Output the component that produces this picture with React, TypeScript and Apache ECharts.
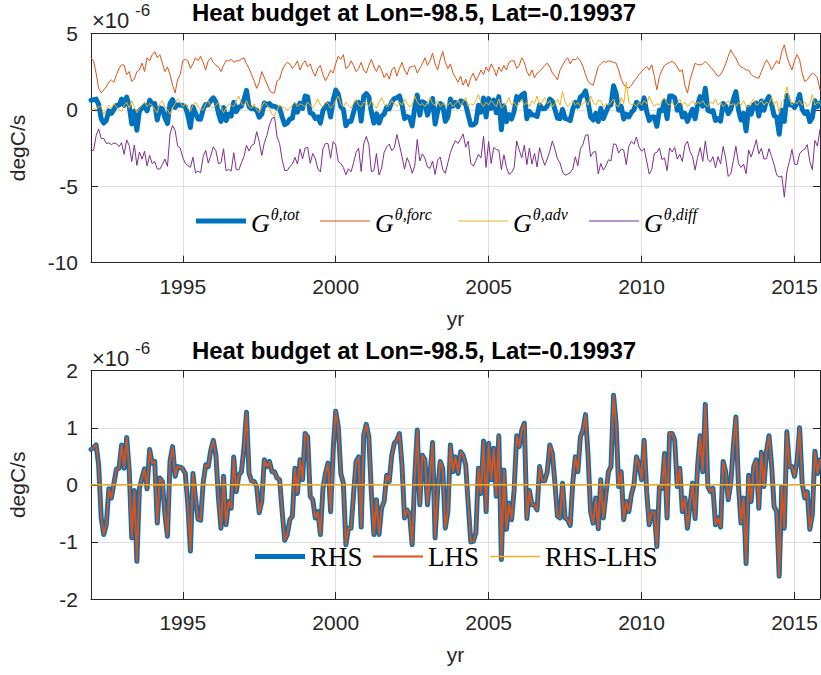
import { useEffect, useRef } from "react";
import * as echarts from "echarts";

const X_MIN = 1992;
const X_MAX = 2015.8333;
const YEAR_TICKS = [1995, 2000, 2005, 2010, 2015];
const TITLE = "Heat budget at Lon=-98.5, Lat=-0.19937";

// monthly values (x1e-6 degC/s), Jan 1992 onward
const gTot = [
  0.62, 0.65, 0.70, 0.35, -0.58, -0.87, -0.70, -0.07, -0.23, 0.03, 0.28, 0.29,
  0.70, 0.29, 0.83, 0.25, -0.93, -0.10, -1.34, -0.06, 0.12, 0.28, -0.07, 0.62,
  0.38, 0.41, -0.67, 0.12, 0.06, -0.52, -0.90, 0.41, 0.67, 0.15, 0.32, 0.31,
  0.28, 0.20, -0.35, -1.16, 0.20, -0.23, -0.60, -0.62, 0.03, 0.35, 0.32, 0.61,
  0.78, 0.52, -0.23, -0.76, 0.15, -0.70, -0.29, -0.41, 0.49, -0.12, 0.17, 0.23,
  0.64, 1.27, 0.20, 0.07, 0.06, -0.03, -0.49, -0.29, 0.44, 0.32, 0.41, 0.23,
  0.23, 0.12, 0.09, -0.47, -0.97, -0.87, -0.61, -0.55, 0.29, -0.15, 0.44, 0.09,
  0.90, 0.84, -0.20, -0.26, -0.58, -0.47, -0.87, -0.06, 0.20, 0.38, -0.47, 0.61,
  1.29, 1.02, 0.20, 0.03, -1.05, -0.76, -0.76, -0.17, 0.41, 0.49, -0.74, 0.87,
  1.06, 0.84, -0.15, -0.87, -0.26, -0.87, -0.41, -0.29, 0.17, 0.06, 0.52, 0.73,
  0.78, 0.90, 0.35, -0.58, -0.44, -0.52, -1.05, 0.12, 0.96, -0.35, 0.52, 0.44,
  -0.35, 0.17, 0.74, -0.93, -0.09, 0.41, 0.29, -0.76, -0.47, 0.70, 0.23, 0.49,
  0.20, 0.58, 0.52, 0.35, -0.35, -1.00, -0.99, -0.84, 0.29, -0.15, 0.77, -0.47,
  0.73, 0.09, 0.64, -0.20, 0.86, -1.31, 0.26, -0.78, -0.32, -0.61, -0.09, 0.86,
  0.67, 0.96, 1.08, -0.59, -0.10, -0.35, -0.35, -0.44, 0.32, 0.07, 0.07, 0.23,
  0.70, 0.55, 0.03, -0.55, -0.58, 0.03, -0.58, -0.61, -0.71, 0.03, 0.49, 0.23,
  0.84, 0.96, 1.23, 0.52, -0.47, -0.67, -0.23, -0.77, 0.09, -0.58, -0.17, 0.23,
  0.32, 1.57, 1.08, -0.03, 0.23, -0.61, -0.29, -0.47, -0.17, 0.00, 0.49, 0.35,
  0.09, 0.78, -0.12, -0.70, -0.47, -0.47, -1.08, -0.03, -0.06, 0.55, -0.58, 0.90,
  0.90, 0.78, -0.03, 0.29, -0.47, -0.23, -0.76, -0.35, 0.03, -0.59, 0.35, 0.86,
  0.23, 1.41, -0.03, -0.12, -0.06, -0.70, -0.58, -0.74, 0.41, 0.23, -0.26, 0.03,
  0.67, 1.19, 0.00, -0.67, -0.23, -1.38, 0.17, -0.29, 0.32, 0.44, -0.41, 0.57,
  -0.03, 0.58, 0.86, 0.35, -0.38, -0.47, -1.60, -0.03, -0.76, 0.93, 0.32, 0.32,
  0.15, 0.41, 1.00, 0.03, -0.23, -0.12, -0.78, -0.52, 0.59, 0.20, 0.44,
];

const gForc = [
  3.4, 3.2, 2.4, 1.4, 1.1, 1.3, 1.5, 1.8, 1.95, 1.8, 2.3, 2.7,
  2.95, 2.9, 2.3, 2.5, 1.85, 2.0, 2.5, 2.6, 3.05, 2.5, 3.4, 3.2,
  3.6, 3.8, 3.4, 3.6, 3.05, 2.5, 2.8, 2.3, 1.6, 1.1, 2.0, 2.3,
  3.2, 3.3, 3.2, 2.7, 3.0, 3.4, 3.2, 3.5, 3.1, 2.6, 3.2, 3.4,
  3.1, 2.9, 2.8, 2.5, 2.9, 3.2, 3.2, 3.3, 3.1, 3.2, 3.2, 3.3,
  3.4, 3.0, 2.7, 2.3, 1.9, 1.4, 1.8, 2.5, 2.1, 1.7, 1.3, 1.1,
  1.1, 1.9, 2.0, 2.6, 2.9, 3.1, 3.0, 2.7, 2.9, 3.2, 2.6, 3.0,
  3.2, 2.8, 3.0, 2.5, 2.2, 2.7, 2.9, 2.3, 1.9, 2.2, 2.6, 2.4,
  3.0, 3.5, 3.3, 3.6, 2.7, 2.8, 3.2, 2.9, 2.5, 2.7, 3.1, 2.6,
  2.4, 2.9, 3.3, 2.8, 2.5, 2.9, 2.6, 2.1, 2.4, 2.0, 2.6, 2.8,
  2.2, 2.7, 3.1, 2.6, 2.3, 2.8, 2.8, 2.9, 2.4, 2.7, 3.0, 3.4,
  2.9, 3.2, 3.7, 3.0, 2.6, 3.3, 3.8, 3.1, 2.7, 3.0, 2.4, 2.1,
  1.8, 2.2, 1.6, 2.0, 1.5, 2.1, 2.4, 1.9, 2.2, 2.6, 2.3, 2.8,
  2.5, 3.0, 2.7, 2.2, 2.8, 2.5, 2.9, 2.6, 3.1, 3.2, 3.2, 2.7,
  2.9, 3.4, 3.1, 2.5, 2.2, 2.6, 2.1, 2.4, 2.5, 2.7, 2.9, 3.05,
  2.8, 2.4, 2.2, 1.96, 2.6, 2.9, 3.2, 3.4, 3.0, 3.3, 3.27, 3.4,
  3.2, 2.83, 2.3, 1.85, 1.7, 1.6, 2.2, 2.83, 3.0, 3.16, 3.1, 3.2,
  3.16, 3.1, 3.05, 2.6, 2.0, 1.63, 1.5, 1.42, 1.6, 1.85, 2.07, 2.3,
  2.5, 2.7, 2.83, 2.61, 2.94, 2.18, 1.31, 2.18, 2.6, 2.9, 3.0, 3.1,
  3.16, 3.05, 2.8, 2.5, 2.61, 1.6, 1.09, 1.96, 2.5, 3.05, 2.95, 2.94,
  3.0, 3.16, 3.0, 2.8, 2.61, 2.4, 2.18, 2.3, 2.61, 3.0, 3.5, 3.92,
  3.6, 3.38, 3.0, 2.8, 2.72, 2.6, 2.6, 2.3, 2.18, 2.1, 2.07, 2.5,
  2.9, 3.27, 3.0, 2.61, 2.9, 3.2, 3.0, 3.8, 4.25, 3.49, 3.0, 2.61,
  3.2, 3.6, 3.27, 2.4, 1.85, 1.96, 2.2, 2.4, 2.3, 2.07, 1.31,
];

const gAdv = [
  -0.1, 0.1, 0.0, 0.2, 0.2, -0.3, 0.0, 0.3, 0.1, 0.4, 0.2, 0.0,
  -0.1, 0.3, 0.5, 0.1, 0.6, 0.2, -0.2, 0.1, 0.3, 0.5, 0.2, 0.4,
  0.3, 0.0, -0.2, 0.4, 0.6, 0.2, 0.0, -0.3, 0.1, 0.4, 0.7, 0.5,
  0.2, 0.4, 0.1, -0.1, 0.3, 0.5, 0.2, 0.0, 0.0, 0.4, 0.6, 0.2,
  0.1, 0.3, 0.5, 0.2, -0.2, 0.1, 0.4, 0.3, 0.2, 0.6, 0.9, 0.4,
  0.3, 0.6, 0.2, 0.1, 0.4, 0.0, -0.2, 0.2, 0.5, 0.3, 0.1, -0.3,
  -0.4, 0.0, 0.3, 0.2, 0.1, 0.0, 0.1, 0.3, 0.5, 0.2, 0.4, 0.3,
  0.2, 0.5, 0.3, 0.1, 0.4, 0.7, 0.3, 0.2, 0.5, 0.4, 0.1, 0.3,
  0.6, 0.9, 0.4, 0.2, 0.5, 0.3, 0.1, 0.4, 0.7, 0.3, 0.2, 0.5,
  0.4, 0.2, 0.6, 0.3, 0.1, 0.5, 0.8, 0.4, 0.2, 0.3, 0.6, 0.4,
  0.2, 0.5, 0.3, 0.7, 0.4, 0.2, 0.3, 0.9, 0.5, 0.3, 0.4, 0.2,
  0.5, 0.8, 0.4, 0.3, 0.6, 0.2, 0.4, 0.3, 0.3, 0.5, 0.2, 0.4,
  0.6, 0.3, 0.5, 0.8, 0.2, 0.4, 0.3, 0.6, 1.0, 0.4, 0.2, 0.5,
  0.3, 0.6, 0.4, 0.2, 0.7, 0.1, 0.3, 0.4, 0.8, 0.3, 0.5, 0.2,
  0.4, 0.7, 0.3, 0.5, 0.2, 0.6, 0.4, 0.9, 0.3, 0.5, 0.8, 0.4,
  0.6, 0.2, 0.4, 0.7, 0.3, 1.2, 0.5, 0.2, 0.4, 0.6, 0.3, 0.5,
  0.2, 0.4, 0.6, 0.3, 0.9, 0.5, 0.3, 0.6, 0.6, 0.2, 0.4, 0.3,
  0.5, 0.7, 0.3, 0.2, 0.8, 0.4, 1.8, 0.5, 0.3, 0.4, 0.2, 0.5,
  0.3, 0.6, 0.4, 0.9, 0.5, 0.2, 0.4, 0.3, 0.6, 0.8, 0.4, 0.3,
  0.5, 0.2, 0.4, 0.7, 0.3, 0.5, 0.2, 0.4, 0.6, 0.3, 0.5, 0.4,
  0.6, 0.3, 0.2, 0.5, 0.4, 0.7, 0.3, 0.5, 0.2, 0.4, 0.6, 0.3,
  0.4, 0.2, 0.5, 0.3, 0.6, 0.2, 0.2, 0.5, 0.7, 0.3, 0.4, 0.6,
  0.3, 0.5, 0.4, 0.8, 0.3, 0.6, -0.2, 0.5, 0.7, 1.5, 0.7, 0.3,
  0.5, 0.4, 0.6, 0.3, 0.5, 0.2, 0.4, 1.0, 0.3, 0.5, 0.4,
];

const gDiff = [
  -2.68, -2.65, -1.70, -1.25, -1.88, -1.87, -2.20, -2.17, -2.28, -2.17, -2.22, -2.41,
  -2.15, -2.91, -1.97, -2.35, -3.38, -2.30, -3.64, -2.76, -3.23, -2.72, -3.67, -2.98,
  -3.52, -3.39, -3.87, -3.88, -3.59, -3.22, -3.70, -1.59, -1.03, -1.35, -2.38, -2.49,
  -3.12, -3.50, -3.65, -3.76, -3.10, -4.13, -4.00, -4.12, -3.07, -2.65, -3.48, -2.99,
  -2.42, -2.68, -3.53, -3.46, -2.55, -4.00, -3.89, -4.01, -2.81, -3.92, -3.93, -3.47,
  -3.06, -2.33, -2.70, -2.33, -2.24, -1.43, -2.09, -2.99, -2.16, -1.68, -0.99, -0.57,
  -0.47, -1.78, -2.21, -3.27, -3.97, -3.97, -3.71, -3.55, -3.11, -3.55, -2.56, -3.21,
  -2.50, -2.46, -3.50, -2.86, -3.18, -3.87, -4.07, -2.56, -2.20, -2.22, -3.17, -2.09,
  -2.31, -3.38, -3.50, -3.77, -4.25, -3.86, -4.06, -3.47, -2.79, -2.51, -4.04, -2.23,
  -1.74, -2.26, -4.05, -3.97, -2.86, -4.27, -3.81, -2.79, -2.43, -2.24, -2.68, -2.47,
  -1.62, -2.30, -3.05, -3.88, -3.14, -3.52, -4.15, -3.68, -1.94, -3.35, -2.88, -3.16,
  -3.75, -3.83, -3.36, -4.23, -3.29, -3.09, -3.91, -4.16, -3.47, -2.80, -2.37, -2.01,
  -2.20, -1.92, -1.58, -2.45, -2.05, -3.50, -3.69, -3.34, -2.91, -3.15, -1.73, -3.77,
  -2.07, -3.51, -2.46, -2.60, -2.64, -3.91, -2.94, -3.78, -4.22, -4.11, -3.79, -2.04,
  -2.63, -3.14, -2.32, -3.59, -2.50, -3.55, -2.85, -3.74, -2.48, -3.13, -3.63, -3.22,
  -2.70, -2.05, -2.57, -3.21, -3.48, -4.07, -4.28, -4.21, -4.11, -3.87, -3.08, -3.67,
  -2.56, -2.27, -1.67, -1.63, -3.07, -2.77, -2.73, -4.20, -3.51, -3.94, -3.67, -3.27,
  -3.34, -2.23, -2.27, -2.83, -2.57, -2.64, -3.59, -2.39, -2.07, -2.25, -1.78, -2.45,
  -2.71, -2.52, -3.35, -4.21, -3.91, -2.85, -2.79, -2.51, -3.26, -3.15, -3.98, -2.50,
  -2.76, -2.47, -3.23, -2.91, -3.38, -2.33, -2.05, -2.71, -3.07, -3.94, -3.10, -2.48,
  -3.37, -2.05, -3.23, -3.42, -3.07, -3.80, -3.06, -3.54, -2.40, -3.17, -4.36, -4.19,
  -3.33, -2.39, -3.50, -3.77, -3.55, -4.18, -2.63, -3.09, -2.56, -1.96, -2.88, -2.53,
  -3.23, -3.19, -2.54, -3.06, -3.58, -4.27, -4.40, -4.33, -5.71, -4.06, -3.38, -2.59,
  -3.55, -3.59, -2.87, -2.67, -2.58, -2.28, -3.38, -3.92, -2.01, -2.37, -1.27,
];

const rhs = gTot;
const lhs = gTot;
const residual = gTot.map(() => 0);

const monthly = (arr: number[]) => arr.map((v, i) => [X_MIN + i / 12, v]);

const BLUE = "#0072BD";
const ORANGE = "#D95319";
const YELLOW = "#EDB120";
const PURPLE = "#7E2F8E";
const AX = "#262626";
const GRIDC = "#dfdfdf";
const SANS = "'Liberation Sans', Arial, Helvetica, sans-serif";
const SERIF = "'Liberation Serif', 'Times New Roman', serif";

const PLOT_LEFT = 91;
const PLOT_W = 729;
const GRIDS = [
  { top: 33.3, height: 229.4 },
  { top: 370.7, height: 228.3 },
];

export default function App() {
  const ref = useRef<HTMLDivElement>(null);
  useEffect(() => {
    if (!ref.current) return;
    const chart = echarts.init(ref.current, null, { renderer: "svg" });

    const xAxes: any[] = [];
    const yAxes: any[] = [];
    const yRanges = [
      { min: -10, max: 5, interval: 5 },
      { min: -2, max: 2, interval: 1 },
    ];
    GRIDS.forEach((_, gi) => {
      xAxes.push({
        type: "value",
        gridIndex: gi,
        position: "bottom",
        min: X_MIN,
        max: X_MAX,
        axisLine: { show: true, onZero: false, lineStyle: { color: AX, width: 1 } },
        axisTick: { show: true, inside: true, length: 7, customValues: YEAR_TICKS, lineStyle: { color: AX } },
        axisLabel: {
          show: true,
          customValues: YEAR_TICKS,
          color: AX,
          fontFamily: SANS,
          fontSize: 21,
          margin: 13,
          formatter: (v: number) => String(Math.round(v)),
        },
        splitLine: { show: true, lineStyle: { color: GRIDC, width: 1 } },
        name: "yr",
        nameLocation: "middle",
        nameGap: 45,
        nameMoveOverlap: false,
        nameTextStyle: { color: AX, fontFamily: SANS, fontSize: 21 },
      });
      xAxes.push({
        type: "value",
        gridIndex: gi,
        position: "top",
        min: X_MIN,
        max: X_MAX,
        axisLine: { show: true, onZero: false, lineStyle: { color: AX, width: 1 } },
        axisTick: { show: true, inside: true, length: 7, customValues: YEAR_TICKS, lineStyle: { color: AX } },
        axisLabel: { show: false },
        splitLine: { show: false },
      });
      yAxes.push({
        type: "value",
        gridIndex: gi,
        position: "left",
        ...yRanges[gi],
        axisLine: { show: true, onZero: false, lineStyle: { color: AX, width: 1 } },
        axisTick: { show: true, inside: true, length: 7, lineStyle: { color: AX } },
        axisLabel: { show: true, color: AX, fontFamily: SANS, fontSize: 21, margin: 13 },
        splitLine: { show: true, lineStyle: { color: GRIDC, width: 1 } },
        name: "degC/s",
        nameLocation: "middle",
        nameGap: 63,
        nameRotate: 90,
        nameMoveOverlap: false,
        nameTextStyle: { color: AX, fontFamily: SANS, fontSize: 21 },
      });
      yAxes.push({
        type: "value",
        gridIndex: gi,
        position: "right",
        ...yRanges[gi],
        axisLine: { show: true, onZero: false, lineStyle: { color: AX, width: 1 } },
        axisTick: { show: true, inside: true, length: 7, lineStyle: { color: AX } },
        axisLabel: { show: false },
        splitLine: { show: false },
      });
    });

    const line = (name: string, data: any[], color: string, width: number, gi: number) => ({
      type: "line",
      name,
      data,
      xAxisIndex: gi * 2,
      yAxisIndex: gi * 2,
      showSymbol: false,
      symbol: "none",
      clip: true,
      lineStyle: { color, width, join: "round", cap: "round" },
      itemStyle: { color },
      emphasis: { disabled: true },
    });

    const gRich = {
      g: { fontFamily: SERIF, fontStyle: "italic", fontSize: 26, color: "#000", lineHeight: 30, verticalAlign: "bottom" },
      s: { fontFamily: SERIF, fontStyle: "italic", fontSize: 16, color: "#000", verticalAlign: "top", padding: [0, 0, 0, 1] },
    };
    const gLegend = (name: string, left: number, w: number) => ({
      data: [name],
      left,
      top: 206,
      padding: 0,
      icon: "rect",
      itemWidth: 50,
      itemHeight: w,
      itemGap: 0,
      selectedMode: false,
      formatter: (n: string) => `{g|G}{s|θ,${n}}`,
      textStyle: { rich: gRich },
    });
    const pLegend = (name: string, left: number, w: number) => ({
      data: [name],
      left,
      top: 541.5,
      padding: 0,
      icon: "rect",
      itemWidth: 50,
      itemHeight: w,
      itemGap: 0,
      selectedMode: false,
      textStyle: { fontFamily: SERIF, fontSize: 27, color: "#000", lineHeight: 30 },
    });

    // exponent label "×10^-6"
    const expTitle = (text: string, left: number, top: number, size: number) => ({
      text,
      left,
      top,
      padding: 0,
      textStyle: { fontFamily: "Liberation Sans", fontWeight: 400, fontSize: size, color: AX },
    });

    chart.setOption({
      animation: false,
      backgroundColor: "#ffffff",
      title: [
        { text: TITLE, left: 414, top: 0, textAlign: "center", padding: 0, textStyle: { fontFamily: SANS, fontWeight: "bold", fontSize: 24, color: "#000" } },
        { text: TITLE, left: 414, top: 338, textAlign: "center", padding: 0, textStyle: { fontFamily: SANS, fontWeight: "bold", fontSize: 24, color: "#000" } },
        expTitle("×10", 92, 9, 22),
        expTitle("-6", 135, 2, 17),
        expTitle("×10", 92, 347, 22),
        expTitle("-6", 135, 340, 17),
      ],
      grid: GRIDS.map((g) => ({ left: PLOT_LEFT, width: PLOT_W, top: g.top, height: g.height, outerBoundsMode: "none", containLabel: false })),
      xAxis: xAxes,
      yAxis: yAxes,
      legend: [
        gLegend("tot", 196, 5),
        gLegend("forc", 320, 1.2),
        gLegend("adv", 458, 1.2),
        gLegend("diff", 589, 1.2),
        pLegend("RHS", 255, 5),
        pLegend("LHS", 373, 2),
        pLegend("RHS-LHS", 490, 1.5),
      ],
      series: [
        line("tot", monthly(gTot), BLUE, 5, 0),
        line("forc", monthly(gForc), ORANGE, 1, 0),
        line("adv", monthly(gAdv), YELLOW, 1, 0),
        line("diff", monthly(gDiff), PURPLE, 1, 0),
        line("RHS", monthly(rhs), BLUE, 5, 1),
        line("LHS", monthly(lhs), ORANGE, 2, 1),
        line("RHS-LHS", monthly(residual), YELLOW, 1.5, 1),
      ],
    });
    return () => chart.dispose();
  }, []);
  return <div ref={ref} style={{ position: "fixed", left: 0, top: 0, width: 821, height: 675, background: "#fff" }} />;
}
